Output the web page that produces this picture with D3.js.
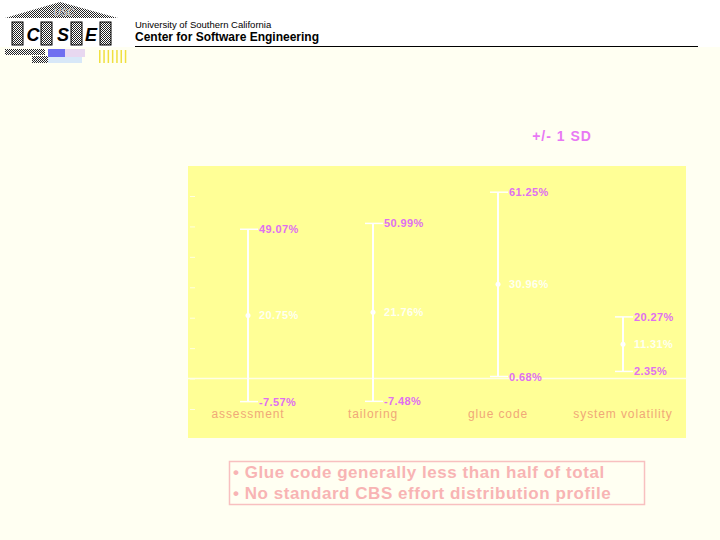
<!DOCTYPE html>
<html><head><meta charset="utf-8">
<script src="https://cdn.jsdelivr.net/npm/d3@7"></script>
<style>body{margin:0;background:#fffff4}svg{display:block}</style>
</head><body>
<script>
const categories = ["assessment", "tailoring", "glue code", "system volatility"];
const highValues = [49.07, 50.99, 61.25, 20.27];
const meanValues = [20.75, 21.76, 30.96, 11.31];
const lowValues  = [-7.57, -7.48, 0.68, 2.35];
const yTicks = [-10, 0, 10, 20, 30, 40, 50, 60];
const fmt = v => v.toFixed(2) + "%";

const W = 720, H = 540;
const svg = d3.select("body").append("svg").attr("width", W).attr("height", H);
const font = "Liberation Sans, Arial, sans-serif";

// background
svg.append("rect").attr("width", W).attr("height", H).attr("fill", "#fffff2");
svg.append("rect").attr("width", W).attr("height", 47).attr("fill", "#ffffff");

// patterns for logo
const defs = svg.append("defs");
const pat = defs.append("pattern").attr("id", "chk").attr("width", 2).attr("height", 2).attr("patternUnits", "userSpaceOnUse");
pat.append("rect").attr("width", 2).attr("height", 2).attr("fill", "#fff");
pat.append("rect").attr("width", 1).attr("height", 1).attr("fill", "#222");
pat.append("rect").attr("x", 1).attr("y", 1).attr("width", 1).attr("height", 1).attr("fill", "#222");

// logo
const logo = svg.append("g");
logo.append("path").attr("d", "M5,18 L60,2 L118,18 Z").attr("fill", "url(#chk)");
logo.append("text").attr("x", 64).attr("y", 16).attr("text-anchor", "middle")
  .attr("font-family", font).attr("font-size", 10).attr("font-weight", "bold")
  .attr("font-style", "italic").attr("fill", "#fff").attr("stroke", "#555").attr("stroke-width", 0.4).text("USC");
[[12, 11], [41, 11], [71, 11], [100, 11]].forEach(([x, w]) => {
  logo.append("rect").attr("x", x).attr("y", 22).attr("width", w).attr("height", 23)
    .attr("fill", "url(#chk)").attr("stroke", "#000").attr("stroke-width", 1);
});
[["C", 33], ["S", 63], ["E", 91]].forEach(([t, x]) => {
  logo.append("text").attr("x", x).attr("y", 41).attr("text-anchor", "middle")
    .attr("font-family", font).attr("font-size", 18).attr("font-weight", "bold")
    .attr("font-style", "italic").attr("fill", "#000").text(t);
});
logo.append("rect").attr("x", 5).attr("y", 49).attr("width", 40).attr("height", 6).attr("fill", "url(#chk)");
logo.append("rect").attr("x", 32).attr("y", 56).attr("width", 18).attr("height", 7).attr("fill", "url(#chk)");
logo.append("rect").attr("x", 48).attr("y", 49).attr("width", 17).attr("height", 8).attr("fill", "#6f6ff0");
logo.append("rect").attr("x", 48).attr("y", 57).attr("width", 34).attr("height", 6).attr("fill", "#d8e8f8");
logo.append("rect").attr("x", 65).attr("y", 49).attr("width", 20).attr("height", 8).attr("fill", "#e8d8f0");
for (let i = 0; i < 7; i++) {
  logo.append("rect").attr("x", 99 + i * 4.3).attr("y", 50).attr("width", 1.5).attr("height", 13).attr("fill", "#f0e040");
}

// header text
svg.append("text").attr("x", 135).attr("y", 27.5).attr("font-family", font)
  .attr("font-size", 9.5).attr("fill", "#000").text("University of Southern California");
svg.append("text").attr("x", 135).attr("y", 41).attr("font-family", font)
  .attr("font-size", 12).attr("font-weight", "bold").attr("fill", "#000").text("Center for Software  Engineering");
svg.append("line").attr("x1", 135).attr("x2", 698).attr("y1", 46.5).attr("y2", 46.5).attr("stroke", "#000").attr("stroke-width", 1);

// title
svg.append("text").attr("x", 562).attr("y", 141).attr("text-anchor", "middle")
  .attr("font-family", font).attr("font-size", 14).attr("font-weight", "bold").attr("letter-spacing", 1)
  .attr("fill", "#e878f4").text("+/- 1 SD");

// plot area
const plot = {x: 188, y: 166, w: 498, h: 272};
svg.append("rect").attr("x", plot.x).attr("y", plot.y).attr("width", plot.w).attr("height", plot.h).attr("fill", "#ffff96");

const x = d3.scalePoint().domain(categories).range([248, 623]);
const y = d3.scaleLinear().domain([-10, 60]).range([409, 196]);

// faint y axis ticks
const yAxis = svg.append("g").attr("transform", `translate(${plot.x + 2},0)`)
  .call(d3.axisRight(y).tickValues(yTicks).tickSize(5).tickFormat(""));
yAxis.select(".domain").remove();
yAxis.selectAll("line").attr("stroke", "#ffffe0").attr("stroke-width", 1);

// zero line
svg.append("line").attr("x1", plot.x).attr("x2", plot.x + plot.w).attr("y1", y(0)).attr("y2", y(0))
  .attr("stroke", "#ffffe6").attr("stroke-width", 1.5);

const data = categories.map((c, i) => ({c, hi: highValues[i], mid: meanValues[i], lo: lowValues[i]}));
const g = svg.append("g");
data.forEach(d => {
  const cx = x(d.c);
  g.append("line").attr("x1", cx).attr("x2", cx).attr("y1", y(d.hi)).attr("y2", y(d.lo))
    .attr("stroke", "#ffffff").attr("stroke-width", 2);
  [d.hi, d.lo].forEach(v => {
    g.append("line").attr("x1", cx - 8).attr("x2", cx + 10).attr("y1", y(v)).attr("y2", y(v))
      .attr("stroke", "#ffffff").attr("stroke-width", 1.5);
  });
  g.append("circle").attr("cx", cx).attr("cy", y(d.mid)).attr("r", 2.5).attr("fill", "#ffffff");
  const lab = (v, col) => g.append("text").attr("x", cx + 11).attr("y", y(v) + 4).attr("font-family", font)
    .attr("font-size", 11).attr("font-weight", "bold").attr("letter-spacing", 0.4).attr("fill", col).text(fmt(v));
  lab(d.hi, "#e070f0");
  lab(d.lo, "#e070f0");
  lab(d.mid, "#fffff0");
  g.append("text").attr("x", cx).attr("y", 418).attr("text-anchor", "middle").attr("font-family", font)
    .attr("font-size", 12).attr("letter-spacing", 0.9).attr("fill", "#f0a878").text(d.c);
});

// note box
const notes = ["• Glue code generally less than half of total", "• No standard CBS effort distribution profile"];
svg.append("rect").attr("x", 229.5).attr("y", 461.5).attr("width", 415).attr("height", 43)
  .attr("fill", "none").attr("stroke", "#f8c0c0").attr("stroke-width", 1.5);
notes.forEach((t, i) => {
  svg.append("text").attr("x", 233).attr("y", 478 + i * 21).attr("font-family", font)
    .attr("font-size", 17).attr("font-weight", "bold").attr("letter-spacing", 0.55)
    .attr("fill", "#f8b4b4").text(t);
});
</script>
</body></html>
